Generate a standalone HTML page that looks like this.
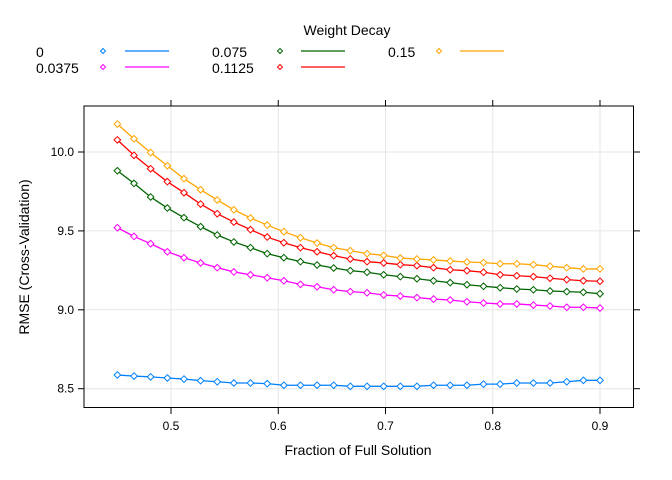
<!DOCTYPE html>
<html><head><meta charset="utf-8"><style>
html,body{margin:0;padding:0;background:#fff;}
svg{display:block;font-family:"Liberation Sans",Arial,sans-serif;}
</style></head><body>
<svg id="chart" width="672" height="480" viewBox="0 0 672 480">
<g id="grid"></g>
<g id="series"></g>
<rect x="84" y="106" width="549.5" height="301.5" fill="none" stroke="#000" stroke-width="1"/>
<g id="axes"></g>
<text x="358" y="455" text-anchor="middle" font-size="14">Fraction of Full Solution</text>
<text transform="translate(29,257) rotate(-90)" text-anchor="middle" font-size="14">RMSE (Cross-Validation)</text>
<text x="347" y="35" text-anchor="middle" font-size="14">Weight Decay</text>
<g id="legend"></g>
</svg>
<script>
const xs = [0.4500,0.4655,0.4810,0.4966,0.5121,0.5276,0.5431,0.5586,0.5741,0.5897,0.6052,0.6207,0.6362,0.6517,0.6672,0.6828,0.6983,0.7138,0.7293,0.7448,0.7603,0.7759,0.7914,0.8069,0.8224,0.8379,0.8534,0.8690,0.8845,0.9000];
const seriesNames = ["0","0.0375","0.075","0.1125","0.15"];
const s0 = [8.587,8.580,8.575,8.568,8.561,8.551,8.544,8.536,8.536,8.532,8.522,8.522,8.522,8.522,8.515,8.515,8.515,8.515,8.515,8.522,8.522,8.522,8.529,8.529,8.536,8.536,8.536,8.544,8.553,8.553];
const s0375 = [9.52,9.465,9.419,9.368,9.330,9.297,9.267,9.240,9.222,9.203,9.184,9.161,9.146,9.127,9.115,9.108,9.094,9.087,9.077,9.068,9.062,9.051,9.043,9.037,9.037,9.030,9.024,9.016,9.016,9.011];
const s075 = [9.881,9.801,9.715,9.645,9.584,9.527,9.474,9.430,9.394,9.356,9.330,9.305,9.284,9.265,9.248,9.238,9.222,9.210,9.197,9.184,9.172,9.159,9.149,9.140,9.132,9.127,9.119,9.115,9.111,9.102];
const s1125 = [10.077,9.979,9.894,9.812,9.742,9.670,9.609,9.556,9.508,9.461,9.425,9.394,9.368,9.343,9.322,9.305,9.297,9.286,9.280,9.267,9.254,9.248,9.238,9.222,9.216,9.210,9.200,9.191,9.184,9.181];
const s15 = [10.177,10.084,9.996,9.913,9.831,9.761,9.696,9.634,9.582,9.537,9.495,9.457,9.423,9.394,9.375,9.356,9.345,9.328,9.322,9.316,9.309,9.303,9.299,9.292,9.292,9.286,9.276,9.267,9.259,9.259];
const xTicks = [0.5,0.6,0.7,0.8,0.9];
const xTickLabels = ["0.5","0.6","0.7","0.8","0.9"];
const yTicks = [8.5,9.0,9.5,10.0];
const yTickLabels = ["8.5","9.0","9.5","10.0"];

const colors = ["#0080ff","#ff00ff","#006400","#ff0000","#ffa500"];
const allSeries = [s0,s0375,s075,s1125,s15];
const NS = "http://www.w3.org/2000/svg";
function X(v){return 171 + (v-0.5)*1072.5;}
function Y(v){return 152 + (10-v)*157.8;}
function mk(tag, attrs, parent){const e=document.createElementNS(NS,tag);for(const k in attrs)e.setAttribute(k,attrs[k]);parent.appendChild(e);return e;}
const grid=document.getElementById('grid'), axes=document.getElementById('axes'), ser=document.getElementById('series'), leg=document.getElementById('legend');
xTicks.forEach((t,i)=>{
  const g=mk('line',{x1:X(t),x2:X(t),y1:106,y2:407.5,stroke:'#e6e6e6','stroke-width':1},grid);
  
  
  const a=mk('line',{x1:X(t),x2:X(t),y1:407.5,y2:414,stroke:'#000'},axes);
  
  
  const b=mk('line',{x1:X(t),x2:X(t),y1:100,y2:106,stroke:'#000'},axes);
  
  
  const tx=mk('text',{x:X(t),y:430,'text-anchor':'middle','font-size':12},axes);
  tx.textContent=xTickLabels[i];
  
  
});
yTicks.forEach((t,i)=>{
  const g=mk('line',{x1:84,x2:633.5,y1:Y(t),y2:Y(t),stroke:'#e6e6e6','stroke-width':1},grid);
  
  
  const a=mk('line',{x1:78,x2:84,y1:Y(t),y2:Y(t),stroke:'#000'},axes);
  
  
  const b=mk('line',{x1:633.5,x2:640,y1:Y(t),y2:Y(t),stroke:'#000'},axes);
  
  
  const tx=mk('text',{x:74,y:Y(t)+4,'text-anchor':'end','font-size':12},axes);
  tx.textContent=yTickLabels[i];
  
  
});
function diamond(cx,cy,r){return `M${cx},${cy-r}L${cx+r},${cy}L${cx},${cy+r}L${cx-r},${cy}Z`;}
allSeries.forEach((s,k)=>{
  const pts=s.map((v,i)=>X(xs[i])+','+Y(v)).join(' ');
  const pl=mk('polyline',{points:pts,fill:'none',stroke:colors[k],'stroke-width':1.3},ser);
  
  
  s.forEach((v,i)=>{
    const p=mk('path',{d:diamond(X(xs[i]),Y(v),3.3),fill:'#fff',stroke:colors[k],'stroke-width':1},ser);
    
    
  });
});
const legPos=[[36,51,103,125],[36,67,103,125],[212,51,280,301],[212,67,280,301],[388,51,439,460]];
seriesNames.forEach((n,k)=>{
  const [tx,ty,dx,lx]=legPos[k];
  const t=mk('text',{x:tx,y:ty+6,'font-size':14},leg);
  t.textContent=n;
  
  
  const d=mk('path',{d:diamond(dx,ty,2.5),fill:'#fff',stroke:colors[k],'stroke-width':1},leg);
  
  
  const l=mk('line',{x1:lx,x2:lx+44,y1:ty,y2:ty,stroke:colors[k],'stroke-width':1.3},leg);
  
  
});
</script>
</body></html>
